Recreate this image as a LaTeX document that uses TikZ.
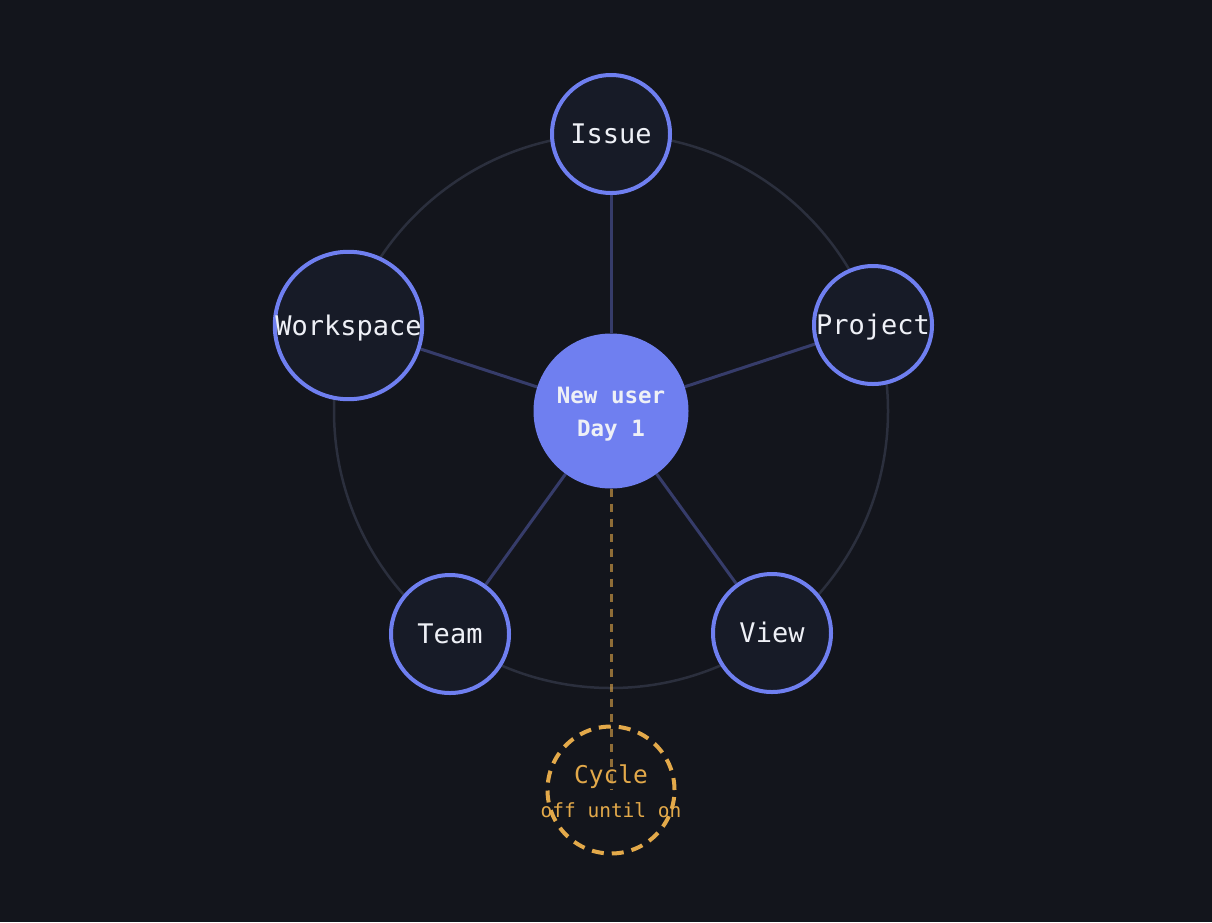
\documentclass[tikz,border=0pt]{standalone}
\usepackage{fontspec}
\setmainfont{DejaVu Sans Mono}
\usetikzlibrary{backgrounds}
\definecolor{bg}{HTML}{13151C}
\definecolor{nodefill}{HTML}{171B27}
\definecolor{accent}{HTML}{6F7FF0}
\definecolor{spoke}{HTML}{363C6A}
\definecolor{ringc}{HTML}{2B2F3D}
\definecolor{gold}{HTML}{E3A94A}
\definecolor{txt}{HTML}{EEF0F6}
\begin{document}
\begin{tikzpicture}[x=1pt,y=-1pt,
  outer/.style={circle,draw=accent,line width=4pt,fill=nodefill,inner sep=0pt,minimum size=118pt,
    text=txt,font=\fontsize{27}{30}\selectfont,text height=19.5pt,text depth=0pt},
  hub/.style={circle,fill=accent,inner sep=0pt,minimum size=155pt},
  spk/.style={draw=spoke,line width=3pt},
  cyc/.style={circle,draw=gold,line width=4pt,dash pattern=on 12pt off 8pt,inner sep=0pt,minimum size=127pt},
  lbl/.style={anchor=base,inner sep=0pt}]
\useasboundingbox (0,0) rectangle (1212,922);
\coordinate (c) at (611,411);
\node[hub] (hub) at (c) {};
\node[outer] (issue) at (611,134) {Issue};
\node[outer] (project) at (873,325) {Project};
\node[outer,minimum size=136pt] (work) at (348.5,325.5) {Workspace};
\node[outer] (team) at (450,634) {Team};
\node[outer] (view) at (772,633) {View};
\node[cyc] (cycle) at (611,790) {};
\node[lbl,text=txt,font=\bfseries\fontsize{22.5}{26}\selectfont] (t1) at (611,403) {New user};
\node[lbl,text=txt,font=\bfseries\fontsize{22.5}{26}\selectfont] (t2) at (611,436) {Day 1};
\node[lbl,text=gold,font=\fontsize{24.5}{28}\selectfont] (t3) at (611,783) {Cycle};
\node[lbl,text=gold,font=\fontsize{19.5}{22}\selectfont] (t4) at (611,817) {off until on};
\begin{scope}[on background layer]
\fill[bg] (0,0) rectangle (1212,922);
\draw[ringc,line width=2.5pt] (c) circle[radius=277];
\draw[spk] (hub) -- (issue);
\draw[spk] (hub) -- (project);
\draw[spk] (hub) -- (work);
\draw[spk] (hub) -- (team);
\draw[spk] (hub) -- (view);
\draw[gold,opacity=0.6,line width=3pt,dash pattern=on 8pt off 7pt] (hub.south) -- (cycle.center);
\end{scope}
\end{tikzpicture}
\end{document}
